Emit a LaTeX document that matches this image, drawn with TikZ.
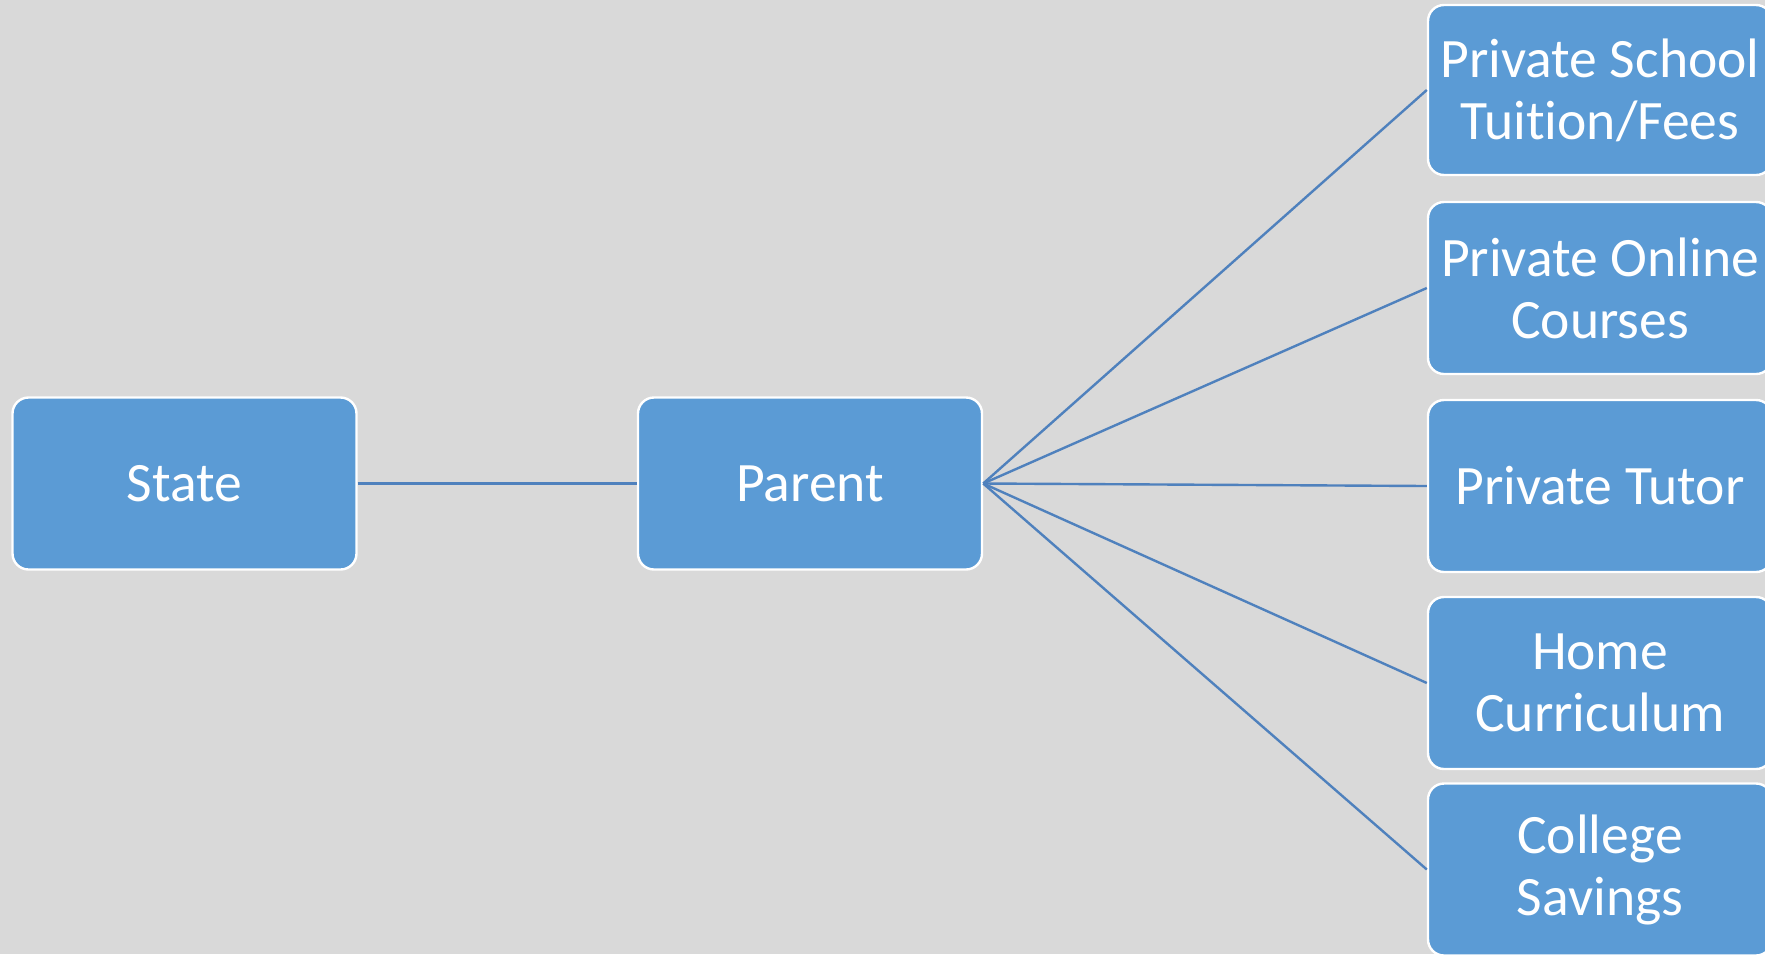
\documentclass[tikz,border=0pt]{standalone}
\usepackage{fontspec}
\setmainfont[Ligatures={NoCommon,NoRare},RawFeature={-liga;-dlig}]{Carlito}
\definecolor{bg}{HTML}{D9D9D9}
\definecolor{boxfill}{HTML}{5B9BD5}
\definecolor{linkblue}{HTML}{4F81BD}
\begin{document}
\begin{tikzpicture}[x=0.5pt,y=-0.5pt,
  box/.style={draw=white, line width=1.2pt, fill=boxfill, rounded corners=8pt,
    minimum width=172pt, minimum height=86pt, inner sep=0pt, align=center,
    text=white, font=\fontsize{27.8}{31}\selectfont},
  link/.style={draw=linkblue, line width=1.2pt}]
\useasboundingbox (0,0) rectangle (1765,954);
\fill[bg] (0,0) rectangle (1765,954);
\clip (0,0) rectangle (1765,954);
\node[box] (state) at (184.5,483.5) {State};
\node[box] (parent) at (810,483.5) {Parent};
\node[box, minimum height=85pt] (school) at (1600,90) {Private School\\Tuition/Fees};
\node[box] (online) at (1600,288) {Private Online\\Courses};
\node[box] (tutor) at (1600,486) {Private Tutor};
\node[box] (home) at (1600,683) {Home\\Curriculum};
\node[box] (college) at (1600,869.5) {College\\Savings};
\draw[link] (state.east) -- (parent.west);
\draw[link] (parent.east) -- (school.west);
\draw[link] (parent.east) -- (online.west);
\draw[link] (parent.east) -- (tutor.west);
\draw[link] (parent.east) -- (home.west);
\draw[link] (parent.east) -- (college.west);
\end{tikzpicture}
\end{document}
